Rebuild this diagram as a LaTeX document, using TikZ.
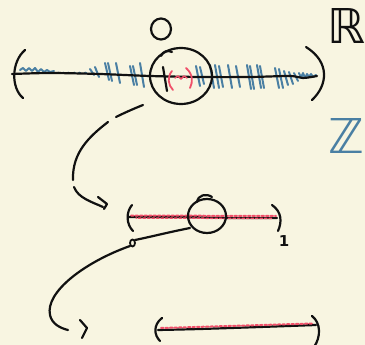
\documentclass[tikz,border=0pt]{standalone}
\usepackage{fontspec}
\newfontfamily\handfont{DejaVu Sans}
\usetikzlibrary{shapes.geometric}
\definecolor{paper}{HTML}{F8F5E1}
\definecolor{ink}{HTML}{111111}
\definecolor{tickblue}{HTML}{4A7FA3}
\definecolor{openred}{HTML}{F0506A}
\tikzset{
  pen/.style={draw=ink, line width=2.2pt, line cap=round, line join=round},
  thinpen/.style={draw=ink, line width=1.8pt, line cap=round, line join=round},
  bluepen/.style={draw=tickblue, line width=2pt, line cap=round, line join=round},
  redpen/.style={draw=openred, line width=1.8pt, line cap=round, line join=round},
  speckle/.style={draw=openred, line width=2pt, line cap=round, dash pattern=on 2.5pt off 2pt},
  lens/.style={pen, ellipse, inner sep=0pt},
  setname/.style={inner sep=0pt, font=\handfont\fontsize{48}{48}\selectfont},
}
\begin{document}
\begin{tikzpicture}[x=1pt,y=-1pt]
\fill[paper] (0,0) rectangle (365,345);
\useasboundingbox (0,0) rectangle (365,345);
\clip (0,0) rectangle (365,345);

% ---------- the real line ----------
% blue marks of the integers, crowding towards both ends
\draw[bluepen] plot coordinates {(20,70) (23,68) (26,71) (29,68) (32,71) (35,68) (38,72) (41,69) (44,72) (47,70) (50,72) (54,71)};
\foreach \x in {58,63,68,74,79,85}
  \draw[bluepen, line width=1.7pt] (\x,72.5) -- (\x+1.5,73);
\foreach \x/\a/\b in {92/69/75, 97/67/77, 107/63/80, 110/63/81, 118/63/83, 132/66/85, 135/66/85, 142/63/87,
                      198/66/86, 202/67/84, 212/65/88, 217/65/88, 221/66/87, 230/65/88, 238/66/87,
                      249/65/89, 252/66/89, 259/65/88, 262/66/88, 277/68/88, 281/69/88, 286/71/85,
                      291/72/84, 296/73/81}
  \draw[bluepen] (\x-2,\a) -- (\x+2,\b);
\draw[bluepen] plot coordinates {(299,73) (301,78) (303,73) (305,78) (307,74) (309,77) (311,74) (313,77) (316,75)};

% the line itself and its open ends
\draw[pen] plot[smooth] coordinates {(12,74) (50,73) (100,74) (150,76) (200,77) (250,77) (290,76) (303,78) (317,76)};
\draw[pen] (25,50) .. controls (11,62) and (11,88) .. (23,98);
\draw[pen] (306,47) .. controls (330,62) and (328,85) .. (312,100);

% zero mark and its label
\draw[pen] (163,67) -- (167,91);
\draw[pen] (161,29) ellipse [x radius=10, y radius=10.5];

% a small open interval around zero
\draw[redpen] (172,71) .. controls (167,77) and (168,85) .. (173,90);
\draw[redpen] (186,68) .. controls (193,74) and (193,82) .. (190,88);
\draw[redpen, line width=1.5pt] plot coordinates {(175,78) (178,76) (181,79) (184,76) (187,78)};

% magnifying circle
\node[lens, minimum width=62pt, minimum height=56pt] (lensA) at (181,76) {};
\draw[pen] (161,56) .. controls (163,51) and (168,50) .. (172,52);

% set names
\node[setname, text=ink] (reals) at (347,26) {ℝ};
\node[setname, text=tickblue, anchor=west] (ints) at (328,136) {ℤ};

% ---------- dashed zoom arrow ----------
\coordinate (zA) at (143,105);
\coordinate (tipA) at (103,207);
\draw[pen] (zA) .. controls (133,109) and (124,113) .. (116,117);
\draw[pen] (108,122) .. controls (90,136) and (72,152) .. (73,180);
\draw[pen] (74,187) .. controls (78,198) and (92,202) .. (tipA);
\draw[pen] (98,197) -- (107,204) -- (104,209);

% ---------- the interval (0,1) ----------
\draw[pen] plot[smooth] coordinates {(128,217) (180,217) (230,218) (277,218)};
\draw[speckle] (131,215.5) -- (276,216);
\draw[speckle, dash phase=2pt, line width=1.5pt] (136,218) -- (272,218.5);
\draw[pen] (132,205) .. controls (126,212) and (126,224) .. (133,231);
\draw[pen] (272,205) .. controls (282,212) and (282,222) .. (278,231);
\node[text=ink, inner sep=0pt, font=\handfont\bfseries\fontsize{15}{15}\selectfont] (one) at (284,241) {1};

\node[lens, minimum width=38pt, minimum height=34pt] (lensB) at (207,216) {};
\draw[pen] (197,202) .. controls (198,195) and (206,193) .. (212,197);

% ---------- second zoom arrow ----------
\coordinate (zB) at (190,228);
\draw[thinpen] (132.5,243) ellipse [x radius=2.5, y radius=3.5];
\draw[pen] (zB) .. controls (165,233) and (150,237) .. (135,240);
\draw[pen] (130,246) .. controls (85,262) and (45,292) .. (50,315) .. controls (52,324) and (60,328) .. (68,330);
\draw[pen] (80,320) -- (87,328) -- (82,338);

% ---------- the open interval, enlarged ----------
\draw[pen] plot[smooth] coordinates {(158,330) (200,329) (260,327) (316,325)};
\draw[speckle] (161,328) -- (312,323.5);
\draw[pen] (162,318) .. controls (153,325) and (154,335) .. (160,341);
\draw[pen] (312,316) .. controls (321,323) and (321,337) .. (314,347);
\end{tikzpicture}
\end{document}
